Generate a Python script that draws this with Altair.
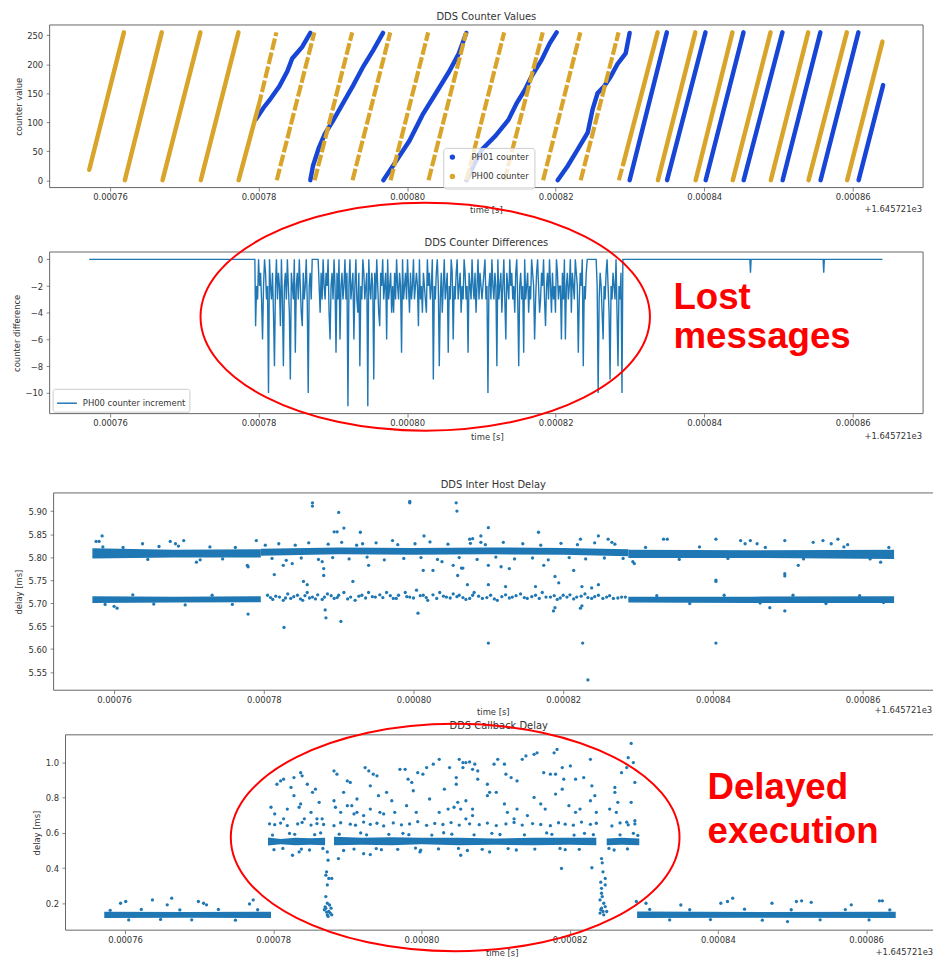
import altair as alt
import pandas as pd

FONT = "DejaVu Sans"
TXT = "#333333"
EDGE = "#666666"
TAB = "#1f77b4"
BLUE = "#1746d6"
GOLD = "#d9a42a"
RED = "#ff0000"

# time values are in microseconds after 1645.721 s
X_TICKS = [760, 780, 800, 820, 840, 860]
X_OFFSET_TEXT = "+1.645721e3"

# ---------------- Panel 1 : DDS Counter Values ----------------
P1_SERIES = ["PH01 counter", "PH00 counter"]
GOLD_RAMPS = [  # (t0, v0, t1, v1, style)
    (757.20, 18, 761.87, 255, "solid"),
    (762.00, 0, 766.97, 255, "solid"),
    (767.07, 0, 772.17, 255, "solid"),
    (772.22, 0, 777.29, 255, "solid"),
    (777.32, 0, 780.00, 128, "solid"),
    (780.00, 128, 782.40, 255, "dashed"),
    (782.45, 0, 787.51, 255, "dashed"),
    (787.55, 0, 792.61, 255, "dashed"),
    (792.65, 0, 797.73, 255, "dashed"),
    (797.77, 0, 802.84, 255, "dashed"),
    (802.88, 0, 807.95, 255, "dashed"),
    (808.00, 0, 813.07, 255, "dashed"),
    (813.11, 0, 818.27, 255, "dashed"),
    (818.31, 0, 823.33, 255, "dashed"),
    (823.37, 0, 828.47, 255, "dashed"),
    (828.51, 0, 829.10, 28, "dashed"),
    (829.10, 28, 833.73, 255, "solid"),
    (833.77, 0, 838.80, 255, "solid"),
    (838.85, 0, 843.80, 255, "solid"),
    (843.85, 0, 848.93, 255, "solid"),
    (848.97, 0, 854.00, 255, "solid"),
    (854.05, 0, 859.20, 255, "solid"),
    (859.25, 0, 864.00, 239, "solid"),
]
BLUE_RAMPS = [
    [(779.64, 105), (780.67, 125), (781.47, 138), (782.80, 162), (783.87, 188), (784.53, 210), (785.87, 230), (786.97, 254)],
    [(786.97, 0), (787.33, 25), (788.09, 55), (788.93, 80), (790.09, 104), (791.47, 135), (792.76, 164), (794.09, 196), (795.43, 224), (796.76, 254)],
    [(796.80, 0), (798.53, 33), (800.31, 68), (802.09, 113), (803.87, 150), (805.64, 187), (806.97, 219), (807.96, 254)],
    [(808.00, 0), (808.93, 25), (810.09, 53), (811.87, 76), (813.64, 104), (814.76, 133), (815.87, 156), (816.76, 179), (818.09, 207), (819.20, 236), (820.13, 255)],
    [(820.27, 0), (821.64, 25), (822.97, 53), (824.31, 82), (824.97, 122), (825.64, 150), (826.53, 162), (827.43, 179), (828.31, 200), (829.43, 219), (829.96, 254)],
    [(829.96, 0), (834.97, 255)],
    [(835.00, 0), (840.17, 255)],
    [(840.20, 0), (845.29, 255)],
    [(845.32, 0), (850.53, 255)],
    [(850.56, 0), (855.64, 255)],
    [(855.67, 0), (860.76, 255)],
    [(860.79, 0), (864.09, 164)],
]

# ---------------- Panel 2 : DDS Counter Differences ----------------
DIFF_LEAD_T = [757.20, 779.50]
DIFF_LEAD_V = [0, 0]
# one character per received message (hex digit = lost count), 779.60 .. 828.93 us
DIFF_DENSE = (
    "5230213620" "132a023148" "2031250382" "1302491230" "7213024513"
    "203a213000" "0000241302" "3120462130" "2713062132" "031b203216"
    "2034182301" "321b023129" "1302451203" "2160321424" "1302312703"
    "2130241320" "3212503241" "2340213209" "2310283142" "0321723016"
    "2310321423" "0132712302" "3142031232" "1032a21302" "3128032142"
    "0361230213" "2410382132" "7032142301" "2631024312" "0352130241"
    "3240132261" "3062132041" "2301273120" "8231000000" "00002a3124"
    "6231024923" "123048231a"
)
DENSE_T_START, DENSE_T_END = 779.60, 828.93
DIFF_TAIL_T = [829.05, 846.15, 846.23, 846.31, 856.01, 856.09, 856.17, 864.00]
DIFF_TAIL_V = [0, 0, -1, 0, 0, -1, 0, 0]

# ---------------- Panel 3 : DDS Inter Host Delay ----------------
P3_BANDS = [  # (segment, t, low, high) dense point bands
    ("up_l", 757.1, 5.797, 5.819), ("up_l", 768.0, 5.799, 5.816), ("up_l", 779.6, 5.799, 5.817),
    ("up_m", 779.6, 5.803, 5.818), ("up_m", 790.0, 5.806, 5.821), ("up_m", 800.0, 5.805, 5.820),
    ("up_m", 810.0, 5.806, 5.821), ("up_m", 820.0, 5.805, 5.820), ("up_m", 828.7, 5.802, 5.817),
    ("up_r", 828.7, 5.798, 5.816), ("up_r", 845.0, 5.798, 5.815), ("up_r", 864.2, 5.796, 5.816),
    ("lo_l", 757.1, 5.700, 5.715), ("lo_l", 768.0, 5.701, 5.714), ("lo_l", 779.6, 5.702, 5.715),
    ("lo_r", 828.7, 5.701, 5.714), ("lo_r", 845.0, 5.700, 5.714), ("lo_r", 864.2, 5.700, 5.715),
]
P3_OUTLIERS = [
    (757.6, 5.834), (758.0, 5.834), (758.4, 5.846), (763.8, 5.829), (767.5, 5.834), (768.2, 5.829),
    (768.6, 5.824), (769.3, 5.836), (771.0, 5.789), (771.5, 5.794), (777.8, 5.782), (777.9, 5.779),
    (779.0, 5.836), (777.9, 5.676), (760.0, 5.693), (760.4, 5.689), (769.5, 5.696),
    (758.5, 5.822), (761.2, 5.821), (764.5, 5.795), (766.0, 5.823), (772.8, 5.822), (774.5, 5.796),
    (776.2, 5.821), (758.8, 5.697), (762.5, 5.718), (765.3, 5.698), (773.1, 5.717), (775.8, 5.697),
    (781.4, 5.762), (782.6, 5.782), (783.8, 5.786), (782.7, 5.647), (785.3, 5.747), (785.8, 5.740),
    (786.5, 5.918), (786.5, 5.911), (787.8, 5.790), (788.0, 5.775), (788.0, 5.760), (788.2, 5.685),
    (788.3, 5.668), (789.4, 5.855), (789.8, 5.855), (790.0, 5.897), (790.3, 5.660), (790.7, 5.863),
    (791.9, 5.747), (792.9, 5.854), (793.2, 5.829), (794.0, 5.782), (797.2, 5.836), (799.5, 5.918),
    (799.5, 5.921), (800.6, 5.678), (801.4, 5.846), (801.3, 5.771), (802.6, 5.771), (803.8, 5.790),
    (805.3, 5.782), (805.7, 5.918), (805.8, 5.900), (805.9, 5.760), (806.4, 5.776), (807.2, 5.740),
    (807.9, 5.840), (810.0, 5.864), (810.0, 5.782), (810.0, 5.740), (810.0, 5.613), (806.6, 5.776),
    (807.5, 5.839), (809.0, 5.846), (809.0, 5.832), (811.7, 5.779), (812.8, 5.775), (812.3, 5.736),
    (816.3, 5.736), (816.7, 5.854), (817.4, 5.782), (818.9, 5.758), (819.4, 5.744), (818.7, 5.683),
    (818.9, 5.690), (821.4, 5.771), (822.3, 5.839), (822.5, 5.736), (822.6, 5.613), (823.3, 5.533),
    (823.8, 5.733), (824.7, 5.740), (824.7, 5.846), (826.0, 5.839), (826.5, 5.832), (822.5, 5.694),
    (822.3, 5.689), (829.5, 5.786), (829.3, 5.790),
    (833.4, 5.839), (833.9, 5.839), (840.4, 5.839), (840.4, 5.750), (840.4, 5.747), (840.4, 5.613),
    (843.7, 5.836), (844.3, 5.829), (845.0, 5.836), (845.9, 5.829), (849.6, 5.836), (849.6, 5.764),
    (849.6, 5.759), (851.4, 5.782), (853.4, 5.832), (854.7, 5.836), (855.8, 5.829), (856.7, 5.839),
    (858.0, 5.827), (862.4, 5.789), (847.6, 5.690), (849.6, 5.683),
    (831.0, 5.821), (835.5, 5.795), (838.2, 5.822), (842.0, 5.797), (847.0, 5.821), (852.1, 5.796),
    (857.5, 5.822), (861.0, 5.796), (863.5, 5.821), (832.5, 5.716), (836.9, 5.699), (841.5, 5.717),
    (846.3, 5.700), (850.7, 5.717), (855.1, 5.699), (859.6, 5.716), (862.8, 5.701),
]
P3_LOWER_MID = [
    (780.5, 5.717), (781.2, 5.708), (782.1, 5.713), (782.6, 5.706), (783.2, 5.720), (783.6, 5.710),
    (784.5, 5.717), (785.2, 5.706), (785.8, 5.723), (786.5, 5.713), (787.2, 5.718), (787.8, 5.708),
    (788.5, 5.720), (789.4, 5.710), (790.0, 5.717), (790.7, 5.723), (791.6, 5.713), (792.2, 5.706),
    (793.1, 5.717), (794.0, 5.723), (794.9, 5.713), (795.5, 5.718), (796.4, 5.723), (797.3, 5.710),
    (798.0, 5.717), (798.9, 5.723), (799.5, 5.713), (800.4, 5.728), (801.3, 5.717), (801.9, 5.706),
    (802.6, 5.718), (803.5, 5.723), (804.4, 5.713), (805.3, 5.720), (806.1, 5.717), (807.0, 5.708),
    (807.9, 5.717), (808.1, 5.723), (809.2, 5.710), (810.3, 5.717), (811.2, 5.706), (812.3, 5.718),
    (813.2, 5.713), (814.3, 5.720), (815.2, 5.710), (816.3, 5.717), (817.2, 5.723), (818.3, 5.713),
    (819.2, 5.708), (820.0, 5.717), (820.9, 5.718), (821.8, 5.713), (822.9, 5.720), (823.8, 5.710),
    (824.7, 5.717), (825.8, 5.713), (826.7, 5.710), (827.8, 5.713),
    (780.9, 5.712), (781.6, 5.715), (782.9, 5.711), (784.0, 5.714), (784.9, 5.709), (785.5, 5.716),
    (786.1, 5.711), (786.9, 5.709), (788.1, 5.713), (789.0, 5.716), (789.8, 5.712), (791.2, 5.709),
    (792.7, 5.715), (793.6, 5.711), (794.5, 5.714), (795.9, 5.712), (796.9, 5.716), (797.7, 5.710),
    (799.1, 5.714), (800.0, 5.711), (800.9, 5.716), (801.7, 5.712), (803.1, 5.710), (804.0, 5.715),
    (804.9, 5.711), (805.8, 5.714), (806.6, 5.712), (807.5, 5.710), (808.7, 5.715), (809.8, 5.712),
    (810.8, 5.709), (811.8, 5.714), (812.8, 5.711), (813.7, 5.716), (814.8, 5.712), (815.8, 5.714),
    (816.8, 5.710), (817.7, 5.713), (818.8, 5.716), (819.6, 5.711), (820.5, 5.713), (821.4, 5.709),
    (822.4, 5.715), (823.3, 5.712), (824.2, 5.714), (825.3, 5.710), (826.2, 5.716), (827.3, 5.711),
    (828.3, 5.713),
]
P3_UPPER_MID = [
    (780.2, 5.826), (781.1, 5.797), (782.0, 5.829), (783.0, 5.793), (784.2, 5.826), (785.0, 5.798),
    (786.0, 5.831), (787.3, 5.795), (788.6, 5.828), (789.2, 5.799), (790.4, 5.832), (791.4, 5.796),
    (792.4, 5.826), (793.8, 5.800), (795.0, 5.831), (796.1, 5.794), (797.9, 5.827), (798.7, 5.797),
    (800.2, 5.829), (801.0, 5.799), (802.2, 5.833), (803.2, 5.795), (804.6, 5.828), (806.1, 5.799),
    (807.6, 5.830), (808.5, 5.795), (809.6, 5.827), (811.0, 5.800), (812.0, 5.832), (813.5, 5.796),
    (814.6, 5.829), (815.9, 5.798), (817.0, 5.826), (818.0, 5.794), (819.7, 5.830), (820.8, 5.799),
    (821.9, 5.827), (823.0, 5.796), (824.2, 5.831), (825.5, 5.798), (826.9, 5.828), (828.0, 5.797),
]

# ---------------- Panel 4 : DDS Callback Delay ----------------
P4_BANDS = [
    ("low_l", 757.2, 0.116, 0.152), ("low_l", 768.0, 0.117, 0.150), ("low_l", 779.7, 0.116, 0.152),
    ("low_r", 829.1, 0.116, 0.153), ("low_r", 846.0, 0.117, 0.150), ("low_r", 864.0, 0.116, 0.151),
    ("mid_a", 779.3, 0.528, 0.574), ("mid_a", 781.0, 0.536, 0.566), ("mid_a", 783.0, 0.530, 0.572),
    ("mid_a", 785.0, 0.533, 0.570), ("mid_a", 787.0, 0.530, 0.572),
    ("mid_b", 788.2, 0.530, 0.578), ("mid_b", 792.0, 0.533, 0.572), ("mid_b", 796.0, 0.530, 0.575),
    ("mid_b", 800.0, 0.536, 0.572), ("mid_b", 805.0, 0.530, 0.572), ("mid_b", 810.0, 0.533, 0.568),
    ("mid_b", 815.0, 0.530, 0.572), ("mid_b", 820.0, 0.533, 0.572), ("mid_b", 823.6, 0.530, 0.572),
    ("mid_c", 825.0, 0.530, 0.568), ("mid_c", 827.0, 0.533, 0.572), ("mid_c", 829.4, 0.530, 0.568),
]
P4_LOW_SCATTER = [
    (759.4, 0.200), (760.1, 0.210), (763.7, 0.219), (765.7, 0.191), (766.3, 0.229), (769.9, 0.210),
    (770.6, 0.200), (771.0, 0.191), (776.8, 0.196), (777.3, 0.219),
    (758.0, 0.160), (760.5, 0.105), (762.2, 0.165), (764.8, 0.108), (767.4, 0.162), (769.0, 0.106),
    (772.6, 0.165), (774.9, 0.104), (777.9, 0.163),
    (829.0, 0.210), (830.3, 0.200), (835.0, 0.190), (840.4, 0.200), (841.3, 0.210), (842.0, 0.229),
    (847.3, 0.200), (849.4, 0.096), (850.6, 0.210), (851.3, 0.214), (852.6, 0.205), (858.0, 0.191),
    (861.8, 0.214), (862.2, 0.214),
    (830.8, 0.165), (833.5, 0.105), (836.2, 0.163), (839.0, 0.107), (843.6, 0.166), (846.0, 0.104),
    (849.9, 0.163), (853.8, 0.106), (857.2, 0.164), (860.4, 0.105), (863.2, 0.162),
]
P4_DROPS = [
    (787.3, 0.492), (787.4, 0.445), (787.2, 0.379), (787.1, 0.360), (787.5, 0.341), (787.9, 0.341),
    (787.3, 0.304), (787.1, 0.238), (787.3, 0.200), (787.6, 0.190), (787.0, 0.180), (787.1, 0.172),
    (787.8, 0.172), (786.9, 0.163), (787.5, 0.153), (787.2, 0.150), (787.7, 0.144), (787.9, 0.134),
    (787.3, 0.134), (787.4, 0.125),
    (824.3, 0.454), (824.4, 0.430), (824.5, 0.379), (824.8, 0.341), (824.2, 0.320), (824.8, 0.304),
    (824.3, 0.285), (824.3, 0.257), (824.4, 0.238), (824.1, 0.219), (824.6, 0.200), (824.8, 0.181),
    (824.3, 0.172), (824.2, 0.163), (824.5, 0.153), (825.0, 0.153), (824.1, 0.144), (824.6, 0.134),
]
P4_HIGH_SCATTER = [
    (779.7, 0.746), (780.2, 0.708), (780.5, 0.877), (781.0, 0.896), (781.4, 0.906), (781.4, 0.680),
    (781.9, 0.736), (782.4, 0.859), (782.8, 0.915), (782.8, 0.812), (783.5, 0.746), (783.7, 0.943),
    (783.7, 0.765), (783.9, 0.925), (784.2, 0.680), (784.6, 0.877), (785.1, 0.717), (785.3, 0.831),
    (785.7, 0.849), (785.9, 0.680), (786.2, 0.774), (786.6, 0.680),
    (788.2, 0.953), (788.2, 0.783), (788.4, 0.746), (788.6, 0.934), (789.1, 0.717), (789.5, 0.831),
    (790.0, 0.896), (790.0, 0.755), (790.4, 0.887), (790.6, 0.755), (790.9, 0.708), (791.3, 0.793),
    (791.3, 0.717), (792.2, 0.699), (792.4, 0.972), (792.9, 0.953), (793.1, 0.868), (793.1, 0.736),
    (793.5, 0.934), (794.0, 0.925), (794.2, 0.812), (794.4, 0.717), (794.9, 0.708), (795.3, 0.831),
    (796.0, 0.783), (796.4, 0.717), (797.1, 0.962), (797.8, 0.962), (798.0, 0.755), (798.2, 0.906),
    (798.7, 0.887), (798.9, 0.840), (799.3, 0.717), (799.5, 0.943), (800.2, 0.934), (800.7, 0.972),
    (801.1, 0.793), (801.6, 0.991), (802.4, 1.019), (802.4, 0.717), (803.1, 0.849), (803.6, 0.736),
    (803.8, 0.972), (804.4, 0.746), (804.7, 0.915), (804.7, 0.877), (804.9, 0.774), (805.1, 1.019),
    (805.3, 0.736), (805.6, 0.972), (805.6, 1.000), (806.0, 1.000), (806.0, 0.783), (806.0, 0.680),
    (806.5, 1.004), (806.9, 0.962), (806.9, 0.736), (806.9, 0.699), (807.2, 0.991), (807.6, 0.953),
    (807.6, 0.906), (808.9, 0.877), (808.9, 0.812), (809.2, 0.831), (809.8, 0.991), (810.1, 0.831),
    (810.3, 1.019), (811.2, 0.991), (811.2, 0.765), (811.4, 0.934), (811.6, 0.717), (812.1, 0.915),
    (812.5, 0.680), (812.9, 0.896), (812.9, 0.736), (813.6, 1.019), (814.1, 1.038), (814.3, 0.699),
    (815.2, 1.047), (815.2, 0.802), (815.6, 1.056), (816.1, 0.765), (816.5, 0.943), (816.7, 0.736),
    (817.4, 0.934), (817.9, 1.056), (818.1, 0.934), (818.1, 0.821), (818.3, 1.075), (819.0, 0.972),
    (819.0, 0.849), (819.2, 0.906), (819.9, 0.755), (820.1, 0.981), (820.8, 0.906), (820.8, 0.717),
    (821.4, 0.736), (821.9, 0.915), (822.8, 1.019), (822.8, 0.783), (823.0, 0.868), (823.4, 0.812),
    (823.6, 0.717), (825.4, 0.736), (826.1, 0.859), (826.1, 0.831), (826.3, 0.717), (826.5, 0.774),
    (827.0, 0.943), (827.7, 0.972), (827.7, 0.661), (827.9, 1.028), (828.3, 1.109), (828.3, 0.774),
    (828.6, 1.000), (828.8, 0.887), (828.8, 0.670),
    (782.6, 0.473), (783.5, 0.492), (788.8, 0.454), (792.2, 0.482), (793.1, 0.477), (799.8, 0.492),
    (805.3, 0.473), (809.2, 0.492), (818.9, 0.398), (823.0, 0.402),
]
P4_ROW_065 = [
    (779.5, 0.652), (780.2, 0.647), (781.0, 0.656), (781.9, 0.642), (783.3, 0.651), (783.9, 0.660),
    (785.1, 0.645), (785.9, 0.653), (786.8, 0.648), (788.2, 0.641), (789.1, 0.658), (790.4, 0.650),
    (791.1, 0.644), (792.2, 0.662), (793.1, 0.649), (794.0, 0.655), (794.9, 0.640), (796.2, 0.657),
    (797.3, 0.646), (798.4, 0.651), (799.5, 0.664), (800.7, 0.643), (801.8, 0.654), (802.9, 0.648),
    (804.0, 0.659), (805.1, 0.645), (806.5, 0.652), (807.8, 0.647), (808.9, 0.656), (810.1, 0.642),
    (811.4, 0.651), (812.5, 0.660), (813.6, 0.645), (815.0, 0.653), (816.1, 0.648), (817.4, 0.641),
    (818.5, 0.658), (819.4, 0.650), (820.5, 0.644), (821.6, 0.662), (822.8, 0.649), (823.6, 0.655),
    (825.7, 0.640), (826.8, 0.657), (827.9, 0.646), (828.8, 0.651),
]
P4_BAND_EDGES = [
    (780.1, 0.505), (782.2, 0.597), (784.9, 0.503), (786.4, 0.600), (789.5, 0.500), (791.8, 0.600),
    (794.6, 0.505), (797.5, 0.598), (799.9, 0.502), (803.0, 0.601), (806.2, 0.500), (809.5, 0.598),
    (812.8, 0.503), (816.9, 0.600), (819.4, 0.505), (822.0, 0.598), (826.0, 0.503), (828.6, 0.598),
    (779.9, 0.588), (781.3, 0.512), (782.9, 0.592), (783.8, 0.508), (785.6, 0.590), (786.7, 0.512),
    (788.9, 0.593), (790.9, 0.508), (792.6, 0.589), (793.9, 0.511), (795.6, 0.592), (796.8, 0.507),
    (798.3, 0.590), (799.2, 0.514), (801.4, 0.588), (802.3, 0.509), (804.1, 0.593), (805.0, 0.512),
    (807.1, 0.589), (808.2, 0.507), (810.6, 0.591), (811.7, 0.511), (813.9, 0.589), (815.3, 0.508),
    (817.6, 0.592), (818.7, 0.512), (820.6, 0.588), (821.3, 0.507), (823.2, 0.590), (825.3, 0.512),
    (826.8, 0.589), (827.8, 0.509), (829.2, 0.586),
]

ELLIPSE = ("M 1 0 C 1 0.28 0.5523 0.507 0 0.507 C -0.5523 0.507 -1 0.28 -1 0 "
           "C -1 -0.28 -0.5523 -0.507 0 -0.507 C 0.5523 -0.507 1 -0.28 1 0 Z")


# ---------------- helpers ----------------
def x_axis(tx, ty):
    return alt.Axis(values=X_TICKS, labelExpr="format(datum.value / 1000000, '.5f')",
                    title="time [s]", titleX=tx, titleY=ty, titleAngle=0,
                    titleAlign="center", titleBaseline="middle",
                    domain=False, grid=False, tickSize=3.5, tickColor=EDGE, tickWidth=0.8,
                    labelFont=FONT, labelFontSize=8.5, labelColor=TXT, labelPadding=1.5,
                    labelFlush=False, labelOverlap=False,
                    titleFont=FONT, titleFontSize=8.5, titleFontWeight="normal", titleColor=TXT)


def y_axis(title, values, fmt, tx, ty, offset=0):
    return alt.Axis(values=values, format=fmt, title=title, offset=offset,
                    titleX=tx, titleY=ty, titleAngle=-90, titleAlign="center",
                    titleBaseline="middle", domain=False, grid=False, tickSize=3.5,
                    tickColor=EDGE, tickWidth=0.8, labelFont=FONT, labelFontSize=8.5,
                    labelColor=TXT, labelPadding=3.5, labelOverlap=False,
                    titleFont=FONT, titleFontSize=8.5, titleFontWeight="normal", titleColor=TXT)


def title_mark(text, x, y):
    return alt.Chart(pd.DataFrame({"s": [text]})).mark_text(
        align="center", baseline="middle", font=FONT, fontSize=10, color=TXT).encode(
        x=alt.value(x), y=alt.value(y), text="s:N")


def frame(x0, x1, h):
    return alt.Chart(pd.DataFrame({"k": [0]})).mark_rect(
        fill="transparent", stroke=EDGE, strokeWidth=1).encode(
        x=alt.value(x0), x2=alt.value(x1), y=alt.value(0), y2=alt.value(h))


def offset_text(x, y, align):
    return alt.Chart(pd.DataFrame({"s": [X_OFFSET_TEXT]})).mark_text(
        align=align, baseline="middle", font=FONT, fontSize=8.5, color=TXT).encode(
        x=alt.value(x), y=alt.value(y), text="s:N")


def pts(rows):
    return pd.DataFrame(rows, columns=["t", "v"])


def spacer(h):
    return alt.Chart(pd.DataFrame({"k": [0]})).mark_point(opacity=0).encode(
        x=alt.value(0), y=alt.value(0)).properties(width=10, height=h)


# ---------------- Panel 1 ----------------
W1, H1 = 881, 164
rows = []
for i, (t0, v0, t1, v1, st) in enumerate(GOLD_RAMPS):
    rows.append(dict(t=t0, v=v0, ramp=f"g{i}", style=st, series="PH00 counter"))
    rows.append(dict(t=t1, v=v1, ramp=f"g{i}", style=st, series="PH00 counter"))
for i, ramp in enumerate(BLUE_RAMPS):
    for t, v in ramp:
        rows.append(dict(t=t, v=v, ramp=f"b{i}", style="solid", series="PH01 counter"))
df1 = pd.DataFrame(rows)

X1 = alt.X("t:Q", scale=alt.Scale(domain=[751.87, 869.47], nice=False, zero=False), axis=x_axis(440, 22))
Y1 = alt.Y("v:Q", scale=alt.Scale(domain=[-12.75, 267.75], nice=False, zero=False),
           axis=y_axis("counter value", [0, 50, 100, 150, 200, 250], "d", -31, H1 / 2))
LEG1 = alt.Legend(title=None, orient="none", legendX=397, legendY=124, symbolType="circle",
                  symbolSize=6, symbolStrokeWidth=3, labelFont=FONT, labelFontSize=8.5,
                  labelColor=TXT, labelOffset=15, padding=5, rowPadding=4.5,
                  fillColor="rgba(255,255,255,0.8)", strokeColor="#cccccc", cornerRadius=3)
C1 = alt.Color("series:N", scale=alt.Scale(domain=P1_SERIES, range=[BLUE, GOLD]), legend=LEG1)

base1 = alt.Chart(df1).encode(x=X1, y=Y1, color=C1, detail="ramp:N")
blue_l = base1.transform_filter("datum.series == 'PH01 counter'").mark_line(strokeWidth=4.5, strokeCap="round")
gold_s = base1.transform_filter("datum.series == 'PH00 counter' && datum.style == 'solid'").mark_line(
    strokeWidth=4.5, strokeCap="round")
gold_d = base1.transform_filter("datum.series == 'PH00 counter' && datum.style == 'dashed'").mark_line(
    strokeWidth=4.2, strokeCap="butt", strokeDash=[12, 2.5])

p1 = alt.layer(blue_l, gold_s, gold_d, frame(0, W1, H1), offset_text(W1 - 1, H1 + 22, "right"),
               title_mark("DDS Counter Values", 440.5, -8.5)).properties(width=W1, height=H1)

# ---------------- Panel 2 ----------------
W2, H2 = 881, 163
n = len(DIFF_DENSE)
dense_t = [DENSE_T_START + i * (DENSE_T_END - DENSE_T_START) / (n - 1) for i in range(n)]
dense_v = [-int(c, 16) for c in DIFF_DENSE]
df2 = pd.DataFrame({"t": DIFF_LEAD_T + dense_t + DIFF_TAIL_T,
                    "v": DIFF_LEAD_V + dense_v + DIFF_TAIL_V})
df2["series"] = "PH00 counter increment"

X2 = alt.X("t:Q", scale=alt.Scale(domain=[751.87, 869.47], nice=False, zero=False), axis=x_axis(441, 23))
Y2 = alt.Y("v:Q", scale=alt.Scale(domain=[-11.55, 0.55], nice=False, zero=False),
           axis=y_axis("counter difference", [-10, -8, -6, -4, -2, 0], "d", -33, H2 / 2))
LEG2 = alt.Legend(title=None, orient="none", legendX=3, legendY=138, symbolType="stroke",
                  symbolSize=400, symbolStrokeWidth=1.5, labelFont=FONT, labelFontSize=8.5,
                  labelColor=TXT, labelOffset=5, padding=3.5,
                  fillColor="rgba(255,255,255,0.8)", strokeColor="#cccccc", cornerRadius=2)
line2 = alt.Chart(df2).mark_line(strokeWidth=1.4).encode(
    x=X2, y=Y2, color=alt.Color("series:N", scale=alt.Scale(domain=["PH00 counter increment"], range=[TAB]),
                                legend=LEG2))
ell1 = alt.Chart(pd.DataFrame({"t": [802.44], "v": [-4.30]})).mark_point(
    shape=ELLIPSE, size=205481, filled=False, color=RED, strokeWidth=2, opacity=1).encode(x=X2, y=Y2)
lost = alt.Chart(pd.DataFrame({"t": [835.85, 835.85], "v": [-3.71, -6.66], "txt": ["Lost", "messages"]})).mark_text(
    align="left", baseline="alphabetic", font="Liberation Sans", fontSize=37, fontWeight="bold",
    color=RED).encode(x=X2, y=Y2, text="txt:N")
p2 = alt.layer(line2, frame(0, W2, H2), offset_text(W2 - 1, H2 + 23, "right"),
               title_mark("DDS Counter Differences", 440.5, -9), ell1, lost).properties(width=W2, height=H2)

# ---------------- Panel 3 ----------------
W3, H3 = 883, 199
SX3 = alt.Scale(domain=[751.39, 868.34], nice=False, zero=False)
SY3 = alt.Scale(domain=[5.5105, 5.9395], nice=False, zero=False)
AY3 = y_axis("delay [ms]", [5.55, 5.60, 5.65, 5.70, 5.75, 5.80, 5.85, 5.90], ".2f", -35, H3 / 2, offset=-4)
X3 = alt.X("t:Q", scale=SX3, axis=x_axis(447, 21))
Y3 = alt.Y("v:Q", scale=SY3, axis=AY3)
band3 = alt.Chart(pd.DataFrame(P3_BANDS, columns=["seg", "t", "lo", "hi"])).mark_area(
    color=TAB, opacity=1).encode(x=X3, y=alt.Y("lo:Q", scale=SY3, axis=AY3), y2="hi:Q", detail="seg:N")
dots3 = alt.Chart(pts(P3_OUTLIERS + P3_LOWER_MID + P3_UPPER_MID)).mark_circle(
    size=11, color=TAB, opacity=1).encode(x=X3, y=Y3)
p3 = alt.layer(band3, dots3, frame(4, W3 + 30, H3), offset_text(832, H3 + 20, "left"),
               title_mark("DDS Inter Host Delay", 447.5, -8)).properties(width=W3, height=H3)

# ---------------- Panel 4 ----------------
W4, H4 = 883, 197
SX4 = alt.Scale(domain=[749.83, 867.96], nice=False, zero=False)
SY4 = alt.Scale(domain=[0.047, 1.158], nice=False, zero=False)
AY4 = y_axis("delay [ms]", [0.2, 0.4, 0.6, 0.8, 1.0], ".1f", -29, H4 / 2, offset=-16)
X4 = alt.X("t:Q", scale=SX4, axis=x_axis(456, 23))
Y4 = alt.Y("v:Q", scale=SY4, axis=AY4)
band4 = alt.Chart(pd.DataFrame(P4_BANDS, columns=["seg", "t", "lo", "hi"])).mark_area(
    color=TAB, opacity=1).encode(x=X4, y=alt.Y("lo:Q", scale=SY4, axis=AY4), y2="hi:Q", detail="seg:N")
dots4 = alt.Chart(pts(P4_LOW_SCATTER + P4_DROPS + P4_HIGH_SCATTER + P4_ROW_065 + P4_BAND_EDGES)).mark_circle(
    size=11, color=TAB, opacity=1).encode(x=X4, y=Y4)
ell2 = alt.Chart(pd.DataFrame({"t": [804.55], "v": [0.574]})).mark_point(
    shape=ELLIPSE, size=204847, filled=False, color=RED, strokeWidth=2, opacity=1).encode(x=X4, y=Y4)
delayed = alt.Chart(pd.DataFrame({"t": [838.6, 838.6], "v": [0.791, 0.543], "txt": ["Delayed", "execution"]})).mark_text(
    align="left", baseline="alphabetic", font="Liberation Sans", fontSize=37, fontWeight="bold",
    color=RED).encode(x=X4, y=Y4, text="txt:N")
p4 = alt.layer(band4, dots4, frame(16, W4 + 30, H4), offset_text(833, H4 + 22, "left"),
               title_mark("DDS Callback Delay", 453, -9), ell2, delayed).properties(width=W4, height=H4)

chart = alt.vconcat(p1, spacer(65), p2, spacer(80), p3, spacer(45), p4, spacing=0, bounds="flush").resolve_scale(
    x="independent", y="independent", color="independent").resolve_legend(color="independent").properties(
    autosize=alt.AutoSizeParams(type="none"),
    padding={"left": 42, "top": 13, "right": 891, "bottom": 941},
    background="white",
).configure_view(stroke=None)

chart.save("out.html", embed_options={"renderer": "svg", "actions": False})
